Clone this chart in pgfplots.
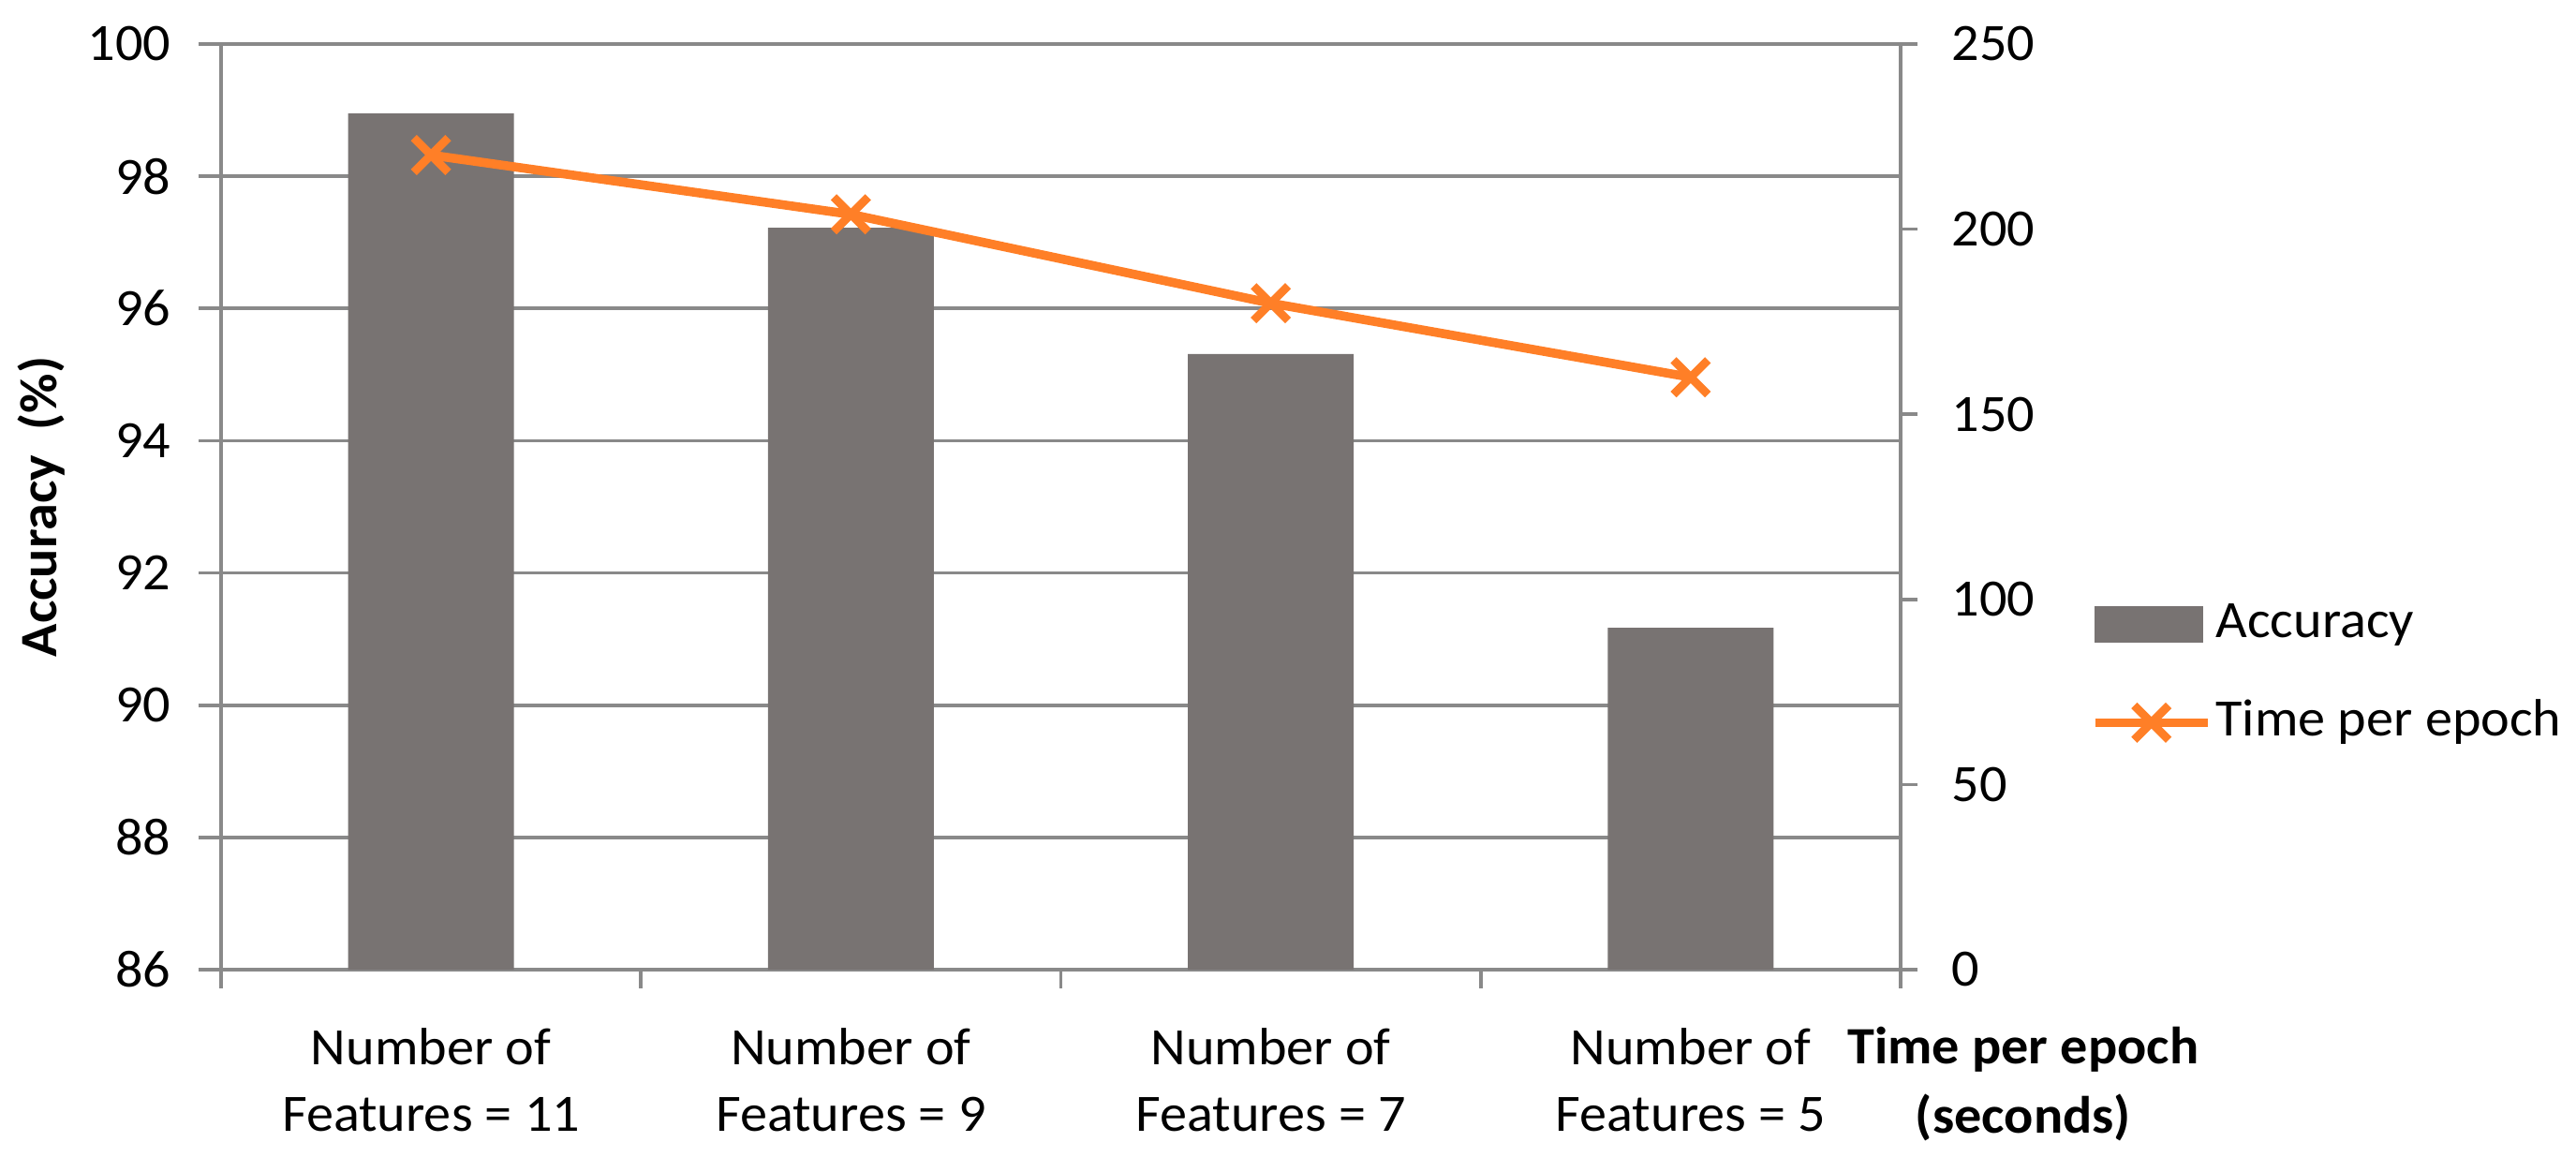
\documentclass[border=0pt]{standalone}
\usepackage{fontspec}
\setmainfont{Carlito}[FakeStretch=1.04]
\usepackage{pgfplots}
\pgfplotsset{compat=1.18}
\definecolor{barc}{RGB}{120,115,114}
\definecolor{linec}{RGB}{255,127,39}
\definecolor{gridc}{RGB}{137,137,137}

\begin{document}
\begin{tikzpicture}
\pgfplotsset{
  every axis/.append style={
    scale only axis, width=448.25pt, height=247pt,
    xmin=-0.5, xmax=3.5,
    font=\fontsize{14}{17.75}\selectfont,
    /pgf/number format/assume math mode=true,
    tick align=outside,
    tick style={gridc, line width=0.9pt},
    axis line style={gridc, line width=0.9pt},
  }
}
\begin{axis}[
  name=ax,
  axis x line*=bottom, axis y line*=left,
  ymin=86, ymax=100, ytick={86,88,...,100},
  ymajorgrids, grid style={gridc, line width=0.9pt},
  xtick={0,1,2,3},
  xticklabels={{Number of\\Features = 11},{Number of\\Features = 9},{Number of\\Features = 7},{Number of\\Features = 5}},
  xticklabel style={align=center, inner sep=0pt, anchor=north, text height=10pt, yshift=-27pt},
  major x tick style={draw=none},
  minor xtick={-0.5,0.5,1.5,2.5,3.5},
  minor x tick style={gridc, line width=0.9pt},
  minor tick length=5pt,
  major tick length=6pt,
  yticklabel style={anchor=east, inner sep=0pt, xshift=-7.25pt},
  ylabel={\bfseries Accuracy\ \ (\%)},
  ylabel style={at={(axis description cs:-0.107,0.5)}, anchor=center},
]
\addplot[ybar, bar width=0.395, fill=barc, draw=none] coordinates {(0,98.95) (1,97.22) (2,95.31) (3,91.17)};
\end{axis}
\begin{axis}[
  axis y line*=right, axis x line=none,
  ymin=0, ymax=250, ytick={0,50,...,250},
  major tick length=4.5pt,
  yticklabel style={anchor=west, inner sep=0pt, xshift=9pt},
  ylabel={Time per epoch\\(seconds)},
  every axis y label/.style={at={(axis description cs:1.073,-0.1356)}, anchor=north, align=center, inner sep=0pt, text height=10pt, font=\fontsize{14}{18.5}\selectfont\bfseries},
  legend cell align=left,
  legend style={at={(axis description cs:1.1132,0.320)}, anchor=west, draw=none, fill=none, inner sep=0pt, outer sep=0pt, row sep=13.25pt, column sep=1pt, nodes={inner sep=0pt, text height=10pt, text depth=3pt}},
]
\addlegendimage{legend image code/.code={\fill[barc] (0pt,-4.6pt) rectangle (28.5pt,4.6pt);}}
\addlegendentry{Accuracy}
\addplot[linec, line width=2.4pt, mark=x, mark size=6.5pt, mark options={line width=2.2pt},
  legend image code/.code={\draw[mark repeat=2,mark phase=2] plot coordinates {(0pt,0pt) (15pt,0pt) (30pt,0pt)};}]
  coordinates {(0,220) (1,204) (2,180) (3,160)};
\addlegendentry{Time per epoch}
\end{axis}
\pgfresetboundingbox
\path ([xshift=-59pt, yshift=-54pt]ax.south west) rectangle ([xshift=180.25pt, yshift=11.75pt]ax.north east);
\end{tikzpicture}
\end{document}
